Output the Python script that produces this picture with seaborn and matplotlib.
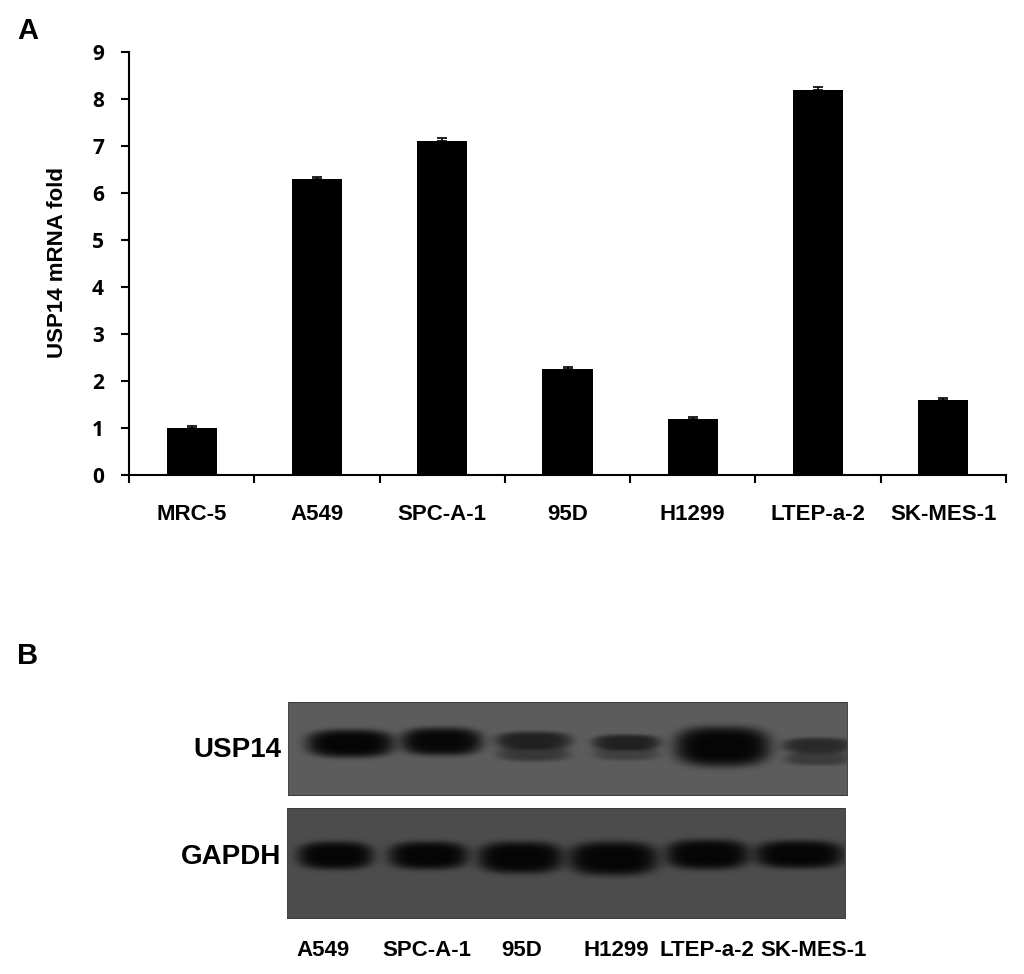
import matplotlib
matplotlib.use("Agg")
import matplotlib.pyplot as plt
import seaborn as sns
import numpy as np
import pandas as pd

# panel A data
cell_lines = ["MRC-5", "A549", "SPC-A-1", "95D", "H1299", "LTEP-a-2", "SK-MES-1"]
fold = [1.0, 6.3, 7.1, 2.25, 1.2, 8.2, 1.6]
fold_err = [0.05, 0.03, 0.06, 0.05, 0.03, 0.05, 0.03]

# panel B data, band centre x/y, half width, half height, darkness (pixels in the blot)
blot_lanes = ["A549", "SPC-A-1", "95D", "H1299", "LTEP-a-2", "SK-MES-1"]
lane_label_x = [323, 427, 522, 616, 707, 814]
usp14_x = [62, 153, 245, 245, 338, 338, 434, 529, 529]
usp14_y = [41, 39, 38, 51, 40, 51, 44, 43, 56]
usp14_w = [44, 41, 38, 36, 34, 33, 48, 35, 33]
usp14_h = [14, 14, 9, 8, 8, 7, 20, 8, 7]
usp14_d = [1.0, 0.97, 0.68, 0.42, 0.68, 0.32, 1.0, 0.58, 0.38]
gapdh_x = [48, 141, 233, 326, 420, 512]
gapdh_y = [47, 47, 49, 50, 46, 46]
gapdh_w = [38, 40, 43, 45, 42, 45]
gapdh_h = [14, 14, 16, 17, 15, 14]
gapdh_d = [1.0, 1.0, 1.0, 1.0, 1.0, 1.0]


def blot_image(width, height, bg, xs, ys, ws, hs, ds):
    yy, xx = np.mgrid[0:height, 0:width]
    img = np.full((height, width), float(bg))
    for x, y, w, h, d in zip(xs, ys, ws, hs, ds):
        r = np.abs((xx - x) / w) ** 3 + np.abs((yy - y) / h) ** 2.6
        img = img - (img - 5) * d * np.exp(-r ** 2)
    # thin dark frame like the cut edge of the film
    img[[0, -1], :] = 60
    img[:, [0, -1]] = 70
    return img


W, H = 1024, 974
fig = plt.figure(figsize=(W / 100, H / 100), dpi=100, facecolor="white")


def px_axes(x0, y0, x1, y1):
    return fig.add_axes([x0 / W, 1 - y1 / H, (x1 - x0) / W, (y1 - y0) / H])


sans = "Liberation Sans"

# A
df = pd.DataFrame({"line": cell_lines, "fold": fold})
ax = px_axes(129, 52, 1006, 475)
sns.barplot(data=df, x="line", y="fold", color="black", saturation=1, width=0.4, ax=ax)
ax.errorbar(range(len(fold)), fold, yerr=[np.zeros(len(fold)), fold_err], fmt="none",
            ecolor="black", elinewidth=1.2, capsize=3.5, capthick=1.2)
ax.set_xlim(-0.5, 6.5)
ax.set_ylim(0, 9)
ax.set_yticks(range(10))
ax.set_yticklabels(range(10), fontsize=15, fontweight="bold", family="Open Sans")
ax.set_xticks(np.arange(-0.5, 7, 1))
ax.set_xticklabels([])
ax.set_xticks(range(7), minor=True)
ax.set_xticklabels(cell_lines, minor=True, fontsize=16, fontweight="bold", family=sans)
ax.tick_params(axis="x", which="major", length=6, width=1.5, direction="out")
ax.tick_params(axis="x", which="minor", length=0, pad=21)
ax.tick_params(axis="y", length=6, width=1.5, pad=12)
ax.set_xlabel("")
ax.set_ylabel("")
for s in ["top", "right"]:
    ax.spines[s].set_visible(False)
for s in ["left", "bottom"]:
    ax.spines[s].set_linewidth(1.5)
fig.text(58 / W, 1 - 263 / H, "USP14 mRNA fold", rotation=90, ha="center", va="center",
         fontsize=16, fontweight="bold", family=sans)

# B
ax_top = px_axes(288, 702, 848, 796)
sns.heatmap(blot_image(560, 94, 92, usp14_x, usp14_y, usp14_w, usp14_h, usp14_d),
            cmap="gray", vmin=0, vmax=255, cbar=False, xticklabels=False, yticklabels=False, ax=ax_top)
ax_bot = px_axes(287, 808, 846, 919)
sns.heatmap(blot_image(559, 111, 76, gapdh_x, gapdh_y, gapdh_w, gapdh_h, gapdh_d),
            cmap="gray", vmin=0, vmax=255, cbar=False, xticklabels=False, yticklabels=False, ax=ax_bot)

fig.text(281 / W, 1 - 750 / H, "USP14", ha="right", va="center", fontsize=20, fontweight="bold", family=sans)
fig.text(281 / W, 1 - 857 / H, "GAPDH", ha="right", va="center", fontsize=20, fontweight="bold", family=sans)
for name, x in zip(blot_lanes, lane_label_x):
    fig.text(x / W, 1 - 950 / H, name, ha="center", va="center", fontsize=16, fontweight="bold", family=sans)

fig.text(17 / W, 1 - 31 / H, "A", ha="left", va="center", fontsize=21, fontweight="bold", family=sans)
fig.text(17 / W, 1 - 656 / H, "B", ha="left", va="center", fontsize=21, fontweight="bold", family=sans)

fig.savefig("out.png", dpi=100)
